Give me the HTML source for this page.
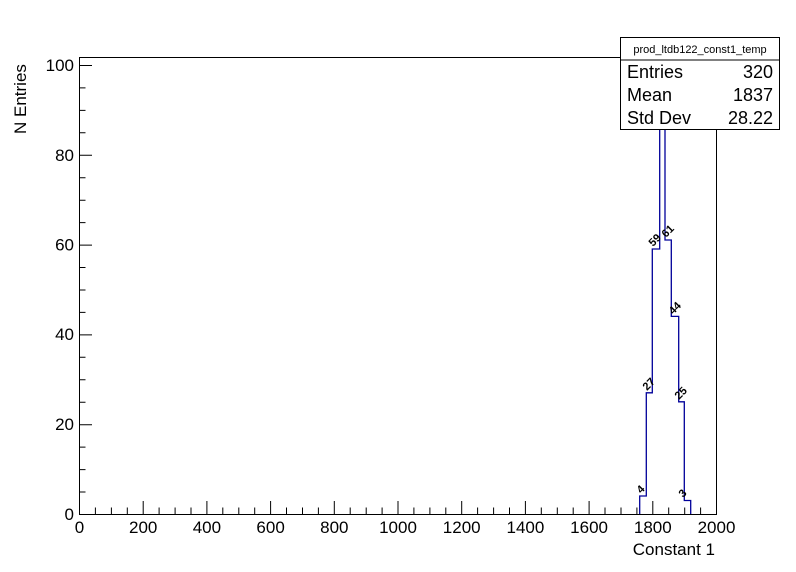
<!DOCTYPE html><html><head><style>body{margin:0;background:#fff}svg{display:block}text{font-family:"Liberation Sans",sans-serif}</style></head><body>
<svg id="s" width="796" height="572" xmlns="http://www.w3.org/2000/svg">
<rect width="796" height="572" fill="#fff"/>
<rect x="79.5" y="57.5" width="637" height="457" fill="none" stroke="#000"/>
<path stroke="#000" fill="none" d="M79.5 514V501M143.2 514V501M206.9 514V501M270.6 514V501M334.3 514V501M398 514V501M461.7 514V501M525.4 514V501M589.1 514V501M652.8 514V501M716.5 514V501
M95.4 514V507.5M111.4 514V507.5M127.3 514V507.5M159.1 514V507.5M175.1 514V507.5M191 514V507.5M222.8 514V507.5M238.8 514V507.5M254.7 514V507.5M286.5 514V507.5M302.5 514V507.5M318.4 514V507.5M350.2 514V507.5M366.2 514V507.5M382.1 514V507.5M413.9 514V507.5M429.9 514V507.5M445.8 514V507.5M477.6 514V507.5M493.6 514V507.5M509.5 514V507.5M541.3 514V507.5M557.3 514V507.5M573.2 514V507.5M605 514V507.5M621 514V507.5M636.9 514V507.5M668.7 514V507.5M684.7 514V507.5M700.6 514V507.5
M79 514.5H92M79 424.7H92M79 334.9H92M79 245.1H92M79 155.3H92M79 65.5H92
M79 492H85.5M79 469.6H85.5M79 447.1H85.5M79 402.2H85.5M79 379.8H85.5M79 357.3H85.5M79 312.4H85.5M79 290H85.5M79 267.5H85.5M79 222.6H85.5M79 200.2H85.5M79 177.7H85.5M79 132.8H85.5M79 110.4H85.5M79 87.9H85.5"/>
<g font-size="17" text-anchor="middle">
<text x="79.5" y="533">0</text><text x="143.2" y="533">200</text><text x="206.9" y="533">400</text><text x="270.6" y="533">600</text><text x="334.3" y="533">800</text><text x="398" y="533">1000</text><text x="461.7" y="533">1200</text><text x="525.4" y="533">1400</text><text x="589.1" y="533">1600</text><text x="652.8" y="533">1800</text><text x="716.5" y="533">2000</text>
</g>
<g font-size="17" text-anchor="end">
<text x="74" y="520">0</text><text x="74" y="430">20</text><text x="74" y="340">40</text><text x="74" y="250.5">60</text><text x="74" y="161">80</text><text x="74" y="71">100</text>
</g>
<text x="715" y="555" font-size="17" text-anchor="end">Constant 1</text>
<text transform="translate(26,134) rotate(-90)" font-size="17">N Entries</text>
<path fill="none" stroke="#00009a" stroke-width="1.3" d="M639.7 514V496H646.3V392.8H652.3V249H659.7V78.5H665V240H671.3V316.4H678.7V401.8H684.3V500.5H690.7V514"/>
<g font-size="11" font-weight="bold">
<text transform="translate(641,494) rotate(-45)">4</text>
<text transform="translate(647,391) rotate(-45)">27</text>
<text transform="translate(653,247) rotate(-45)">59</text>
<text transform="translate(666,238) rotate(-45)">61</text>
<text transform="translate(673,315) rotate(-45)">44</text>
<text transform="translate(679,400) rotate(-45)">25</text>
<text transform="translate(683,498) rotate(-45)">3</text>
</g>
<rect x="620.5" y="37.5" width="159" height="92" fill="#fff" stroke="#000"/>
<line x1="620.5" y1="60" x2="779.5" y2="60" stroke="#000"/>
<text x="700" y="53" font-size="11" text-anchor="middle">prod_ltdb122_const1_temp</text>
<g font-size="18">
<text x="627" y="78">Entries</text><text x="773" y="78" text-anchor="end">320</text>
<text x="627" y="101">Mean</text><text x="773" y="101" text-anchor="end">1837</text>
<text x="627" y="124">Std Dev</text><text x="773" y="124" text-anchor="end">28.22</text>
</g>
</svg></body></html>
